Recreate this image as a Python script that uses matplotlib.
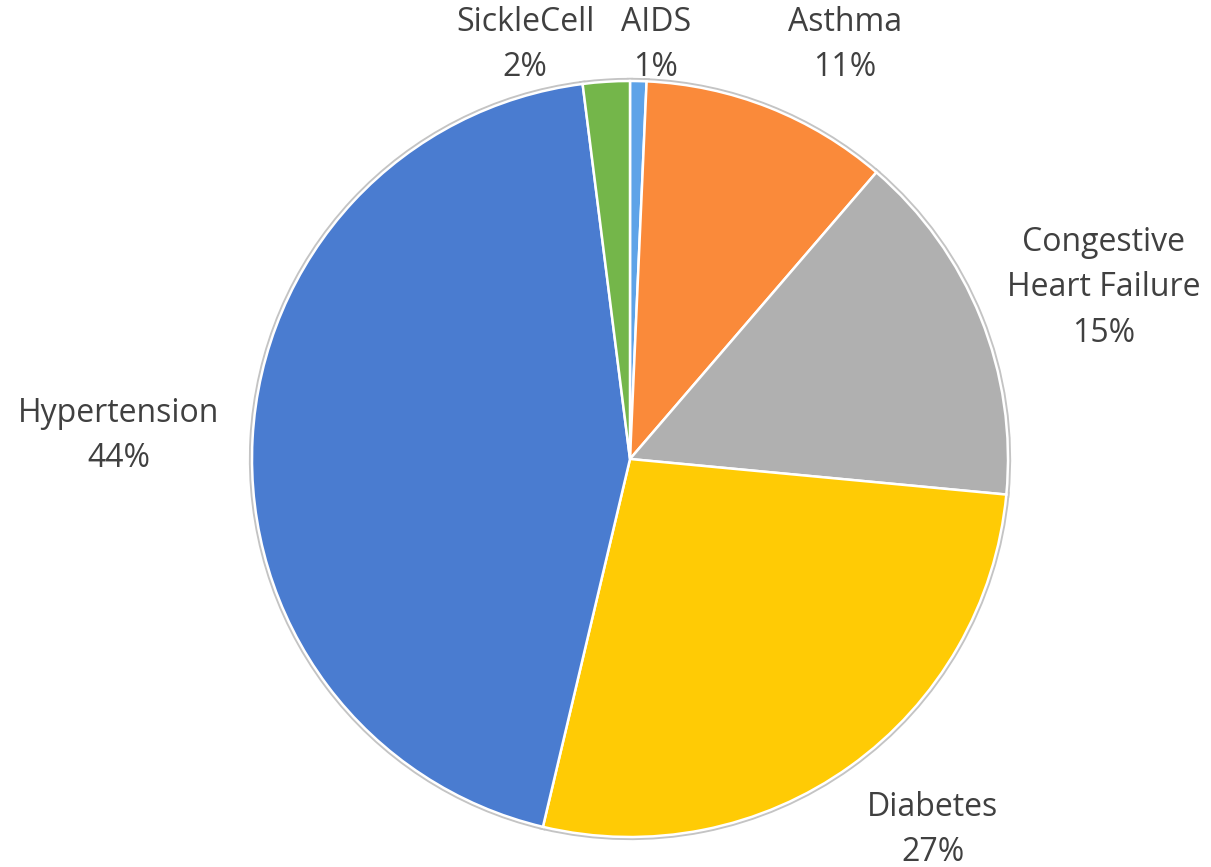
import matplotlib
matplotlib.use("Agg")
import matplotlib.pyplot as plt
import numpy as np

categories = ["AIDS", "Asthma", "Congestive\nHeart Failure", "Diabetes", "Hypertension", "SickleCell"]
values = [0.7, 10.6, 15.2, 27.2, 44.3, 2.0]
pct_labels = ["1%", "11%", "15%", "27%", "44%", "2%"]
colors = ["#5ea3e8", "#fa8a3a", "#b0b0b0", "#ffcb05", "#4a7cd0", "#74b64a"]

# label anchor positions (pixels from top-left), layout only
label_pos = [(656, 45), (845, 45), (1104, 288), (933, 830), (119, 436), (525, 45)]

W, H = 1211, 867
fig = plt.figure(figsize=(W / 100, H / 100), dpi=100)
ax = fig.add_axes([0, 0, 1, 1])
ax.set_xlim(0, W)
ax.set_ylim(0, H)
ax.set_aspect("equal")
ax.axis("off")

cx, cy, r = 630, H - 459, 378
common = dict(startangle=90, counterclock=False, center=(cx, cy), radius=r, colors=colors)
ax.pie(values, wedgeprops=dict(edgecolor="#c4c4c4", linewidth=4.5), **common)
ax.pie(values, wedgeprops=dict(edgecolor="white", linewidth=1.8), **common)
ax.set_xlim(0, W)
ax.set_ylim(0, H)

for cat, pct, (x, y) in zip(categories, pct_labels, label_pos):
    ax.text(x, H - y, f"{cat}\n{pct}", ha="center", va="center", fontsize=23,
            family=["Open Sans", "DejaVu Sans"], color="#404040", linespacing=1.5)

fig.savefig("out.png", dpi=100)
